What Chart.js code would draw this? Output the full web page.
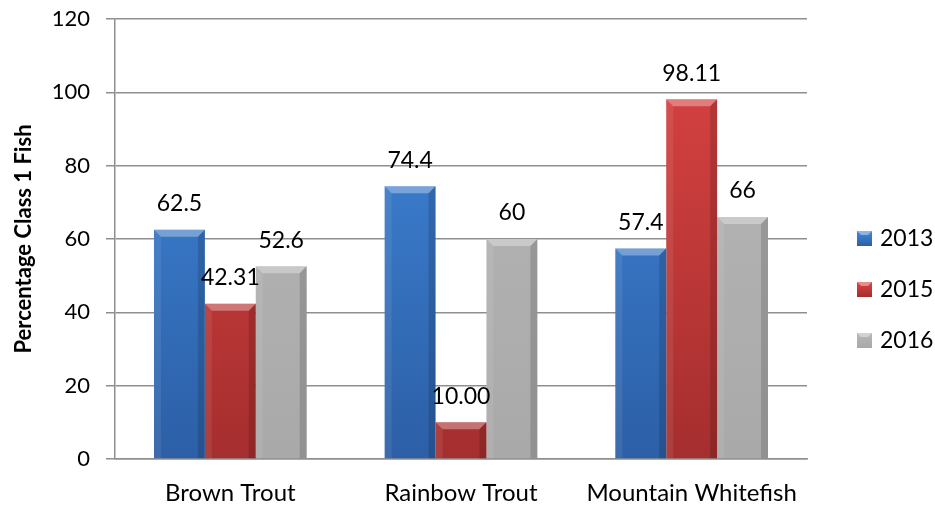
<!DOCTYPE html>
<html>
<head>
<meta charset="utf-8">
<script src="https://cdn.jsdelivr.net/npm/chart.js@4/dist/chart.umd.min.js"></script>
<style>
  html, body { margin: 0; padding: 0; background: #ffffff; }
  #wrap { width: 935px; height: 506px; }
</style>
</head>
<body>
<div id="wrap"><canvas id="c" width="935" height="506"></canvas></div>
<script>
const categories = ['Brown Trout', 'Rainbow Trout', 'Mountain Whitefish'];
const seriesNames = ['2013', '2015', '2016'];
const values2013 = [62.5, 74.4, 57.4];
const values2015 = [42.31, 10.00, 98.11];
const values2016 = [52.6, 60, 66];
const labels2013 = ['62.5', '74.4', '57.4'];
const labels2015 = ['42.31', '10.00', '98.11'];
const labels2016 = ['52.6', '60', '66'];
const yTicks = [0, 20, 40, 60, 80, 100, 120];

const FONT = 'Lato, "Open Sans", sans-serif';
const palette = [
  { top: '#4189dd', bottom: '#2c5fa6' },
  { top: '#dc4444', bottom: '#a52e2e' },
  { top: '#b8b8b8', bottom: '#a9a9a9' }
];

function gradFor(i) {
  return function (ctx) {
    const ca = ctx.chart.chartArea;
    if (!ca) return palette[i].top;
    const g = ctx.chart.ctx.createLinearGradient(0, ca.top, 0, ca.bottom);
    g.addColorStop(0, palette[i].top);
    g.addColorStop(1, palette[i].bottom);
    return g;
  };
}

const valueLabels = [labels2013, labels2015, labels2016];

const bevelPlugin = {
  id: 'bevel',
  afterDatasetsDraw(chart) {
    const c = chart.ctx;
    chart.data.datasets.forEach((ds, di) => {
      const meta = chart.getDatasetMeta(di);
      meta.data.forEach((bar) => {
        const p = bar.getProps(['x', 'y', 'base', 'width'], true);
        const x1 = p.x - p.width / 2, x2 = p.x + p.width / 2;
        const y = p.y, b = p.base;
        const bv = Math.min(7, (b - y) / 2);
        c.save();
        c.beginPath();
        c.moveTo(x1, y); c.lineTo(x2, y); c.lineTo(x2 - bv, y + bv); c.lineTo(x1 + bv, y + bv); c.closePath();
        c.fillStyle = 'rgba(255,255,255,0.32)'; c.fill();
        c.beginPath();
        c.moveTo(x1, y); c.lineTo(x1 + bv, y + bv); c.lineTo(x1 + bv, b); c.lineTo(x1, b); c.closePath();
        c.fillStyle = 'rgba(255,255,255,0.08)'; c.fill();
        c.beginPath();
        c.moveTo(x2, y); c.lineTo(x2 - bv, y + bv); c.lineTo(x2 - bv, b); c.lineTo(x2, b); c.closePath();
        c.fillStyle = 'rgba(0,0,0,0.14)'; c.fill();
        c.restore();
      });
    });
  },
  afterDraw(chart) {
    const c = chart.ctx;
    c.save();
    c.font = '23px ' + FONT;
    c.fillStyle = '#000000';
    c.textAlign = 'center';
    c.textBaseline = 'middle';
    chart.data.datasets.forEach((ds, di) => {
      const meta = chart.getDatasetMeta(di);
      meta.data.forEach((bar, i) => {
        c.fillText(valueLabels[di][i], bar.x, bar.y - 26);
      });
    });
    c.restore();
    c.save();
    c.font = '23px ' + FONT;
    c.textAlign = 'left';
    c.textBaseline = 'middle';
    const ys = [238, 289, 340];
    seriesNames.forEach((name, i) => {
      const mx = 857, my = ys[i] - 7, s = 15;
      const g = c.createLinearGradient(0, my, 0, my + s);
      g.addColorStop(0, palette[i].top);
      g.addColorStop(1, palette[i].bottom);
      c.fillStyle = g;
      c.fillRect(mx, my, s, s);
      c.beginPath();
      c.moveTo(mx, my); c.lineTo(mx + s, my); c.lineTo(mx + s - 4, my + 4); c.lineTo(mx + 4, my + 4); c.closePath();
      c.fillStyle = 'rgba(255,255,255,0.4)'; c.fill();
      c.fillStyle = '#000000';
      c.fillText(name, 880, ys[i] + 1);
    });
    c.restore();
  }
};

new Chart(document.getElementById('c'), {
  type: 'bar',
  data: {
    labels: categories,
    datasets: [
      { label: seriesNames[0], data: values2013, backgroundColor: gradFor(0), borderWidth: 0 },
      { label: seriesNames[1], data: values2015, backgroundColor: gradFor(1), borderWidth: 0 },
      { label: seriesNames[2], data: values2016, backgroundColor: gradFor(2), borderWidth: 0 }
    ]
  },
  options: {
    responsive: false,
    animation: false,
    layout: { padding: { top: 19, right: 128, left: 0, bottom: 0 } },
    plugins: {
      legend: { display: false },
      tooltip: { enabled: false },
      title: { display: false }
    },
    datasets: { bar: { categoryPercentage: 0.662, barPercentage: 1.0 } },
    scales: {
      x: {
        grid: { display: false, drawTicks: false },
        border: { display: true, color: '#8f8f8f', width: 1.5 },
        ticks: { color: '#000000', font: { family: FONT, size: 24 }, padding: 20, maxRotation: 0 },
        afterFit(scale) { scale.height = 47; scale.paddingLeft = 0; scale.paddingRight = 0; }
      },
      y: {
        min: 0, max: 120,
        afterBuildTicks(scale) { scale.ticks = yTicks.map(v => ({ value: v })); },
        grid: { color: '#8f8f8f', lineWidth: 1.5, tickLength: 9, drawTicks: true },
        border: { display: true, color: '#8f8f8f', width: 1.5 },
        ticks: { color: '#000000', font: { family: FONT, size: 22 }, padding: 16 },
        title: { display: true, text: 'Percentage Class 1 Fish', color: '#000000', font: { family: FONT, size: 22, weight: 'bold' }, padding: { top: 11, bottom: 0 } },
        afterFit(scale) { scale.width = 115; scale.paddingTop = 0; scale.paddingBottom = 0; }
      }
    }
  },
  plugins: [bevelPlugin]
});
</script>
</body>
</html>
